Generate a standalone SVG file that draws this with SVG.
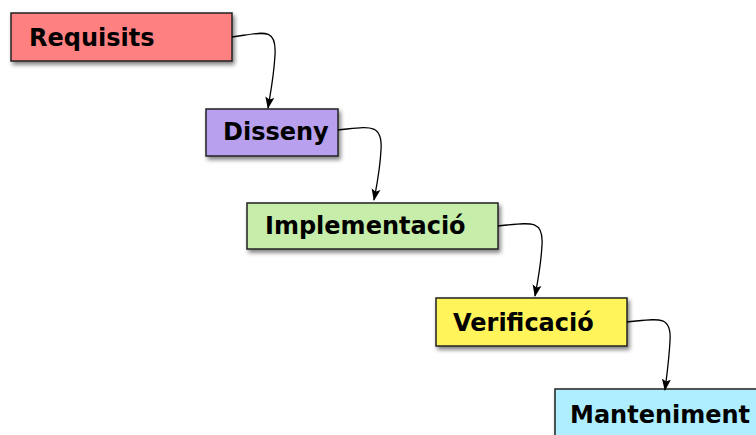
<svg xmlns="http://www.w3.org/2000/svg" width="756" height="435" viewBox="0 0 756 435">
  <defs>
    <filter id="shadow" x="-10%" y="-20%" width="125%" height="160%">
      <feGaussianBlur in="SourceAlpha" stdDeviation="2"/>
      <feOffset dx="2" dy="3" result="blur"/>
      <feComponentTransfer><feFuncA type="linear" slope="0.5"/></feComponentTransfer>
      <feMerge><feMergeNode/><feMergeNode in="SourceGraphic"/></feMerge>
    </filter>
    <marker id="arrow" viewBox="0 0 12 10" refX="11" refY="5" markerWidth="12" markerHeight="10" markerUnits="userSpaceOnUse" orient="auto">
      <path d="M0,0.5 L12,5 L0,9.5 L2.5,5 Z" fill="#000"/>
    </marker>
  </defs>
  <style>
    .box { stroke: #222; stroke-width: 1.5; filter: url(#shadow); }
    .label { font-family: "DejaVu Sans", sans-serif; font-weight: bold; font-size: 24px; fill: #000; }
    .link { fill: none; stroke: #000; stroke-width: 1.3; marker-end: url(#arrow); }
  </style>
  <rect width="756" height="435" fill="#fff"/>
  <g id="requisits">
    <rect class="box" x="11" y="13" width="221" height="48" fill="#ff8080"/>
    <text class="label" x="29" y="46">Requisits</text>
  </g>
  <g id="disseny">
    <rect class="box" x="206" y="109" width="132" height="47" fill="#b8a0ee"/>
    <text class="label" x="223" y="140">Disseny</text>
  </g>
  <g id="implementacio">
    <rect class="box" x="247" y="203" width="251" height="46" fill="#c6eeaa"/>
    <text class="label" x="265" y="234">Implementació</text>
  </g>
  <g id="verificacio">
    <rect class="box" x="436" y="298" width="191" height="48" fill="#fff55a"/>
    <text class="label" x="453" y="331">Verificació</text>
  </g>
  <g id="manteniment">
    <rect class="box" x="555" y="389" width="215" height="60" fill="#aeeeff"/>
    <text class="label" x="570" y="423">Manteniment</text>
  </g>
  <g id="connectors">
    <path class="link" d="M232,37 C262,33 277,26 275,55 C274,75 271,90 268,108"/>
    <path class="link" d="M338,130 C368,127 383,122 381,150 C380,170 377,184 374,200"/>
    <path class="link" d="M498,226 C528,223 544,218 542,245 C541,265 538,280 535,296"/>
    <path class="link" d="M627,322 C657,319 672,314 670,341 C669,360 667,374 665,390"/>
  </g>
</svg>
